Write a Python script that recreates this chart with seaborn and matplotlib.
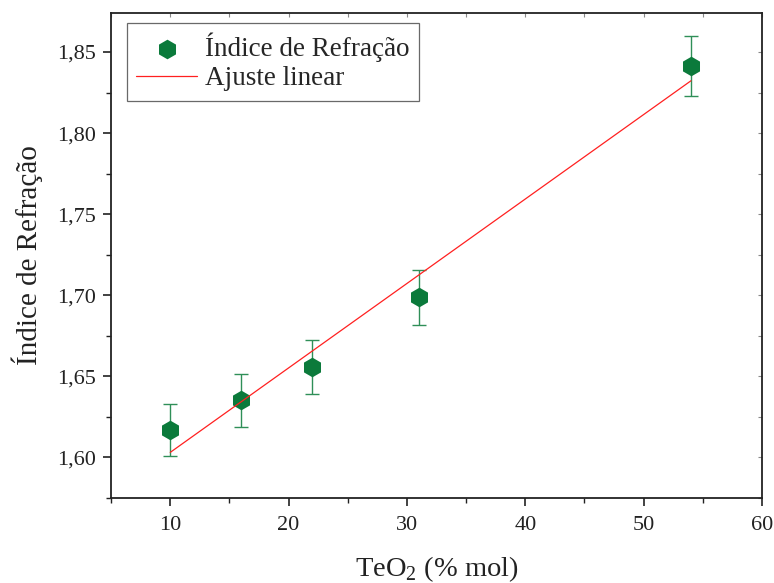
import numpy as np
import pandas as pd
import matplotlib
matplotlib.use("Agg")
import matplotlib.pyplot as plt
from matplotlib.ticker import FuncFormatter, MultipleLocator
import seaborn as sns

# Data
teo2 = [10, 16, 22, 31, 54]
indice = [1.6167, 1.6352, 1.6556, 1.6988, 1.8414]
erro = [0.016, 0.0165, 0.0165, 0.017, 0.0185]
xticks = [10, 20, 30, 40, 50, 60]
yticks = [1.60, 1.65, 1.70, 1.75, 1.80, 1.85]

df = pd.DataFrame({"x": teo2, "y": indice, "e": erro})

sns.set_style("ticks")
plt.rcParams['font.family'] = ['Liberation Serif', 'DejaVu Serif']
plt.rcParams['mathtext.fontset'] = 'custom'
plt.rcParams['mathtext.rm'] = 'Liberation Serif'

fig = plt.figure(figsize=(7.74, 5.83), dpi=100)
ax = fig.add_axes([0.1435, 0.146, 0.8410, 0.8315])

green = "#0b7a3b"
ax.errorbar(df["x"], df["y"], yerr=df["e"], fmt='none', ecolor="#2f8f58",
            elinewidth=1.0, capsize=5, capthick=1.0, zorder=2)
sns.scatterplot(data=df, x="x", y="y", ax=ax, marker='h', s=200, color=green,
                edgecolor=green, linewidth=0, label="Índice de Refração", zorder=3)
sns.regplot(data=df, x="x", y="y", ax=ax, scatter=False, ci=None, truncate=True,
            line_kws=dict(color="#ff2020", lw=0.9, zorder=4), label="Ajuste linear")

ax.set_xlim(5, 60)
ax.set_ylim(1.575, 1.874)
ax.set_xticks(xticks)
ax.set_yticks(yticks)
ax.xaxis.set_minor_locator(MultipleLocator(5))
ax.yaxis.set_minor_locator(MultipleLocator(0.025))
ax.yaxis.set_major_formatter(FuncFormatter(lambda v, p: f"{v:.2f}".replace('.', ',')))

ax.tick_params(axis='both', which='major', direction='out', length=6, width=1.2,
               labelsize=16, colors='#222222', labelcolor='#222222', pad=5)
ax.tick_params(axis='x', which='major', pad=7)
ax.tick_params(axis='both', which='minor', direction='out', length=3.5, width=1.0,
               colors='#222222')

# mirrored inward ticks on top and right
top = ax.secondary_xaxis('top')
top.set_xticks(xticks)
top.xaxis.set_minor_locator(MultipleLocator(5))
top.tick_params(which='both', direction='in', length=3, width=0.8, colors='#888888',
                labeltop=False)
top.spines['top'].set_visible(False)
right = ax.secondary_yaxis('right')
right.set_yticks(yticks)
right.yaxis.set_minor_locator(MultipleLocator(0.025))
right.tick_params(which='both', direction='in', length=3, width=0.8, colors='#888888',
                  labelright=False)
right.spines['right'].set_visible(False)

for s in ax.spines.values():
    s.set_linewidth(1.3)
    s.set_color('#222222')

ax.set_xlabel("TeO$_2$ (% mol)", fontsize=20.5, labelpad=14, color='#222222')
ax.set_ylabel("Índice de Refração", fontsize=21, labelpad=10, color='#222222')

leg = ax.legend(loc='upper left', bbox_to_anchor=(0.016, 0.99), fontsize=19.5,
                frameon=True, fancybox=False, edgecolor='#444444',
                handlelength=2.25, borderpad=0.35, labelspacing=0.15,
                handletextpad=0.3, borderaxespad=0.2)
leg.get_frame().set_linewidth(0.9)

fig.savefig("out.png", dpi=100)
